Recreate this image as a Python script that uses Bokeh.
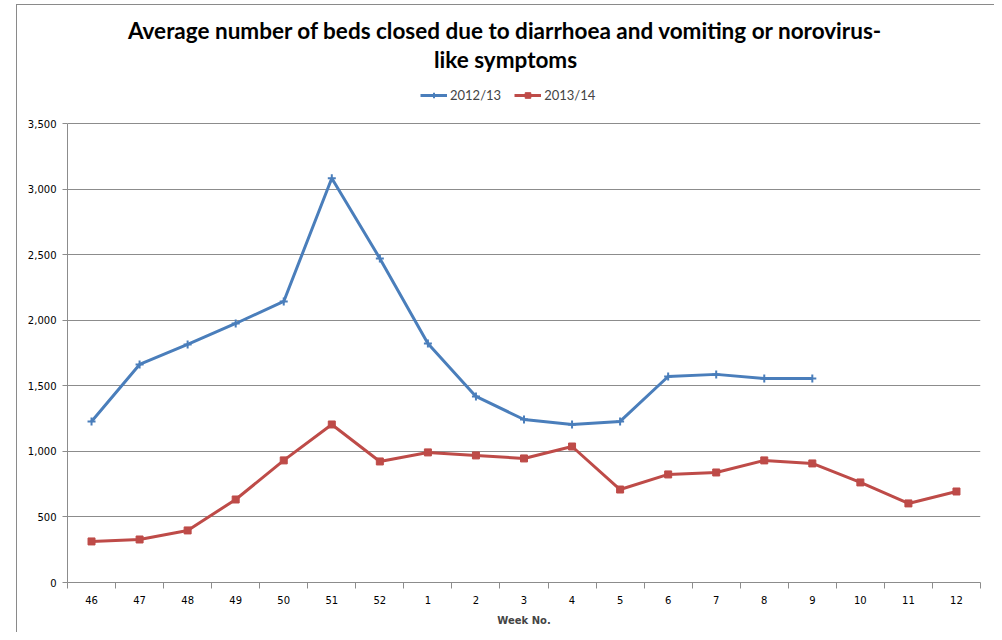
from bokeh.plotting import figure
from bokeh.models import (FixedTicker, NumeralTickFormatter, Label, Legend, LegendItem,
                          Range1d)
from bokeh.embed import file_html
from bokeh.resources import INLINE

# ---- data ----
weeks = ["46", "47", "48", "49", "50", "51", "52", "1", "2", "3", "4", "5",
         "6", "7", "8", "9", "10", "11", "12"]
beds_2012_13 = [1228, 1663, 1815, 1975, 2143, 3082, 2471, 1823, 1419, 1243,
                1205, 1228, 1571, 1587, 1556, 1556]
beds_2013_14 = [313, 328, 397, 633, 931, 1205, 923, 992, 969, 946, 1037, 709,
                824, 839, 931, 908, 763, 603, 694]
y_ticks = [0, 500, 1000, 1500, 2000, 2500, 3000, 3500]
title_lines = ["Average number of beds closed due to diarrhoea and vomiting or norovirus-",
               "like symptoms"]
series_names = ["2012/13", "2013/14"]

BLUE = "#4A7EBB"
RED = "#BE4B48"
GRID = "#8C8C8C"

# ---- layout geometry (pixels) ----
FRAME_H = 582          # frame spans canvas top to the x axis
PLOT_TOP = 123         # where the 3,500 gridline sits
y_axis_max = y_ticks[-1]
y_range_top = y_axis_max * FRAME_H / (FRAME_H - PLOT_TOP)

x_pos = [i + 0.5 for i in range(len(weeks))]

p = figure(width=994, height=632, output_backend="svg", toolbar_location=None,
           x_range=Range1d(0, len(weeks)), y_range=Range1d(0, y_range_top),
           min_border_left=67, min_border_right=14, min_border_top=0,
           min_border_bottom=50)
p.title.visible = False
p.outline_line_color = None
p.background_fill_alpha = 0
p.border_fill_alpha = 0
p.styles = {
    "background": ("linear-gradient(#8a8a8a,#8a8a8a) 16px 4px / 980px 1px no-repeat, "
                   "linear-gradient(#8a8a8a,#8a8a8a) 16px 4px / 1px 700px no-repeat, "
                   "linear-gradient(#8a8a8a,#8a8a8a) 995px 4px / 1px 700px no-repeat, "
                   "white"),
}

l1 = p.line(x_pos[:len(beds_2012_13)], beds_2012_13, line_color=BLUE, line_width=3)
s1 = p.scatter(x_pos[:len(beds_2012_13)], beds_2012_13, marker="cross", size=8,
               line_color=BLUE, line_width=2)
l2 = p.line(x_pos, beds_2013_14, line_color=RED, line_width=3)
s2 = p.scatter(x_pos, beds_2013_14, marker="square", size=7,
               fill_color=RED, line_color=RED)

# axes
p.xaxis.ticker = FixedTicker(ticks=x_pos, minor_ticks=list(range(len(weeks) + 1)))
p.xaxis.major_label_overrides = {x: w for x, w in zip(x_pos, weeks)}
p.xaxis.major_tick_line_color = None
p.xaxis.major_tick_out = 0
p.xaxis.major_tick_in = 0
p.xaxis.minor_tick_out = 6
p.xaxis.minor_tick_in = 0
p.xaxis.minor_tick_line_color = GRID
p.xaxis.axis_line_color = GRID
p.xaxis.major_label_standoff = 7
p.xaxis.axis_label = "Week No."
p.xaxis.axis_label_text_font = "DejaVu Sans"
p.xaxis.axis_label_text_font_size = "10px"
p.xaxis.axis_label_text_font_style = "bold"
p.xaxis.axis_label_standoff = 8

p.yaxis.ticker = FixedTicker(ticks=y_ticks)
p.yaxis.bounds = (0, y_axis_max)
p.yaxis.formatter = NumeralTickFormatter(format="0,0")
p.yaxis.major_tick_out = 5
p.yaxis.major_tick_in = 0
p.yaxis.minor_tick_line_color = None
p.yaxis.major_tick_line_color = GRID
p.yaxis.axis_line_color = GRID
p.yaxis.major_label_standoff = 6

for ax in (p.xaxis, p.yaxis):
    ax.major_label_text_font = "DejaVu Sans"
    ax.major_label_text_font_size = "10px"
    ax.major_label_text_color = "black"

p.xgrid.grid_line_color = None
p.ygrid.grid_line_color = GRID
p.ygrid.grid_line_width = 1

# title (two centred lines), placed in the empty top of the frame
for txt, y in zip(title_lines, [552, 523]):
    p.add_layout(Label(x=438, y=y, x_units="screen", y_units="screen", text=txt,
                       text_align="center", text_baseline="middle",
                       text_font="Lato", text_font_size="22.5px",
                       text_font_style="bold", text_color="black"))

legend = Legend(items=[LegendItem(label=series_names[0], renderers=[l1, s1]),
                       LegendItem(label=series_names[1], renderers=[l2, s2])],
                orientation="horizontal", location=(353, 479),
                border_line_color=None, background_fill_alpha=0,
                label_text_font="Lato", label_text_font_size="13px",
                glyph_width=27, glyph_height=14, label_height=14,
                label_standoff=3, spacing=13, padding=0, margin=0)
p.add_layout(legend, "center")

open("out.html", "w").write(file_html(p, INLINE))
